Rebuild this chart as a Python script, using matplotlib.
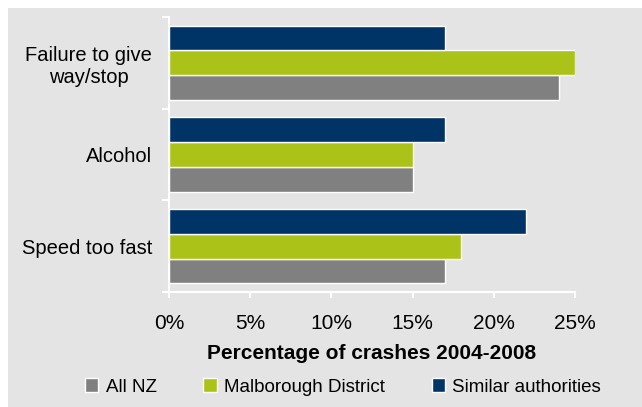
import numpy as np
import matplotlib
matplotlib.use("Agg")
import matplotlib.pyplot as plt
from matplotlib.patches import Rectangle

plt.rcParams['font.family'] = ['Liberation Sans', 'DejaVu Sans']

# data (bottom to top on the chart)
categories = ["Speed too fast", "Alcohol", "Failure to give\nway/stop"]
all_nz = [17, 15, 24]
malborough = [18, 15, 25]
similar = [22, 17, 17]
series_names = ["All NZ", "Malborough District", "Similar authorities"]
xticks = [0, 5, 10, 15, 20, 25]

c_gray = "#808080"
c_green = "#abc218"
c_navy = "#003366"
bg = "#e4e4e4"

fig = plt.figure(figsize=(6.42, 4.07), dpi=100)
fig.patch.set_facecolor("white")
fig.patches.append(Rectangle((8 / 642, 0), 1, 1 - 8 / 407, transform=fig.transFigure,
                             facecolor=bg, edgecolor="none", zorder=-10))

ax = fig.add_axes([169 / 642, 1 - 292 / 407, (575 - 169) / 642, (292 - 17) / 407])
ax.set_facecolor("none")

y = np.arange(len(categories))
h = 0.27
ax.barh(y - h, all_nz, height=h, color=c_gray, edgecolor="white", linewidth=1, label=series_names[0])
ax.barh(y, malborough, height=h, color=c_green, edgecolor="white", linewidth=1, label=series_names[1])
ax.barh(y + h, similar, height=h, color=c_navy, edgecolor="white", linewidth=1, label=series_names[2])

ax.set_xlim(0, 25)
ax.set_ylim(-0.5, len(categories) - 0.5)
ax.set_xticks(xticks)
ax.set_xticklabels([f"{t}%" for t in xticks])
ax.set_yticks(y)
ax.set_yticklabels(categories, multialignment="center")
ax.set_yticks(np.arange(-0.5, len(categories)), minor=True)

for s in ["top", "right"]:
    ax.spines[s].set_visible(False)
for s in ["left", "bottom"]:
    ax.spines[s].set_color("white")
    ax.spines[s].set_linewidth(1.5)

ax.tick_params(axis="y", which="major", length=0, pad=12, labelsize=14.5)
ax.tick_params(axis="y", which="minor", length=5, width=1.5, color="white", direction="out")
ax.tick_params(axis="x", length=4, width=1.5, color="white", direction="out", pad=12, labelsize=15)

ax.set_xlabel("Percentage of crashes 2004-2008", fontsize=15, fontweight="bold", labelpad=8)

handles, labels = ax.get_legend_handles_labels()
leg = fig.legend(handles, labels, loc="center", bbox_to_anchor=(343 / 642, 1 - 387 / 407), ncol=3,
                 frameon=False, fontsize=13.5, handlelength=0.7, handleheight=0.7,
                 handletextpad=0.4, columnspacing=2.5)

fig.savefig("out.png", dpi=100, facecolor=fig.get_facecolor())
